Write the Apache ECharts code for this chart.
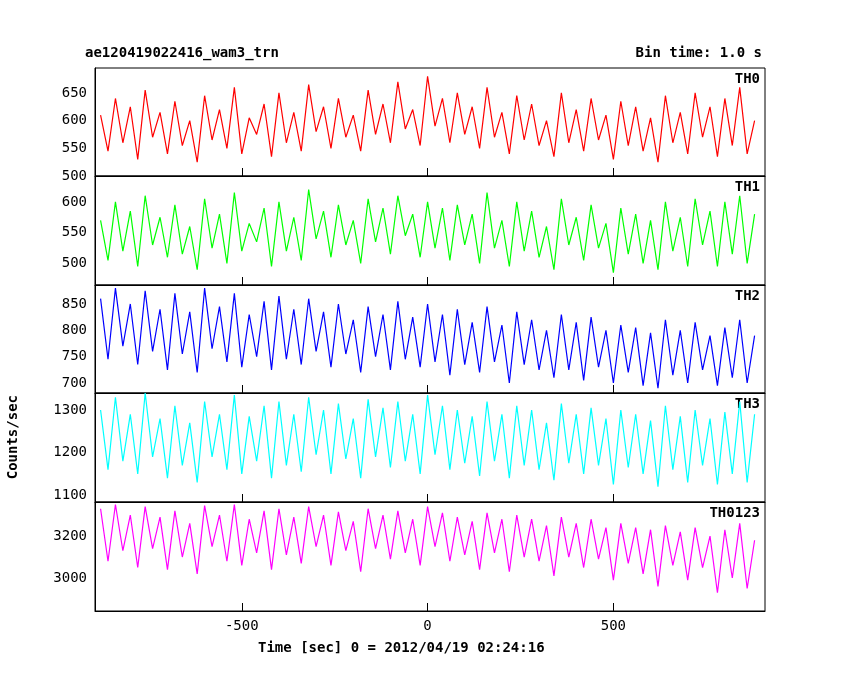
<!DOCTYPE html>
<html>
<head>
<meta charset="utf-8">
<script src="https://cdn.jsdelivr.net/npm/echarts@6/dist/echarts.min.js"></script>
<style>html,body{margin:0;padding:0;background:#fff}#main{width:850px;height:680px}</style>
</head>
<body>
<div id="main"></div>
<script>
var myChart = echarts.init(document.getElementById('main'));

// time bins (sec from 2012/04/19 02:24:16), 20 s apart
var times = [];
for (var t = -880; t <= 880; t += 20) times.push(t);

var names = ['TH0', 'TH1', 'TH2', 'TH3', 'TH0123'];
var colors = ['#ff0000', '#00ff00', '#0000ff', '#00ffff', '#ff00ff'];

var th0 = [610,545,640,560,625,530,655,570,615,540, 635,555,600,525,645,565,620,550,660,540,
  605,575,630,535,650,560,615,545,665,580, 625,550,640,570,610,545,655,575,630,560,
  670,585,620,555,680,590,640,560,650,575, 625,550,660,570,615,540,645,565,630,555,
  600,535,650,560,620,545,640,565,610,530, 635,555,625,545,605,525,645,560,615,540,
  650,570,625,535,640,555,660,540,600];
var th1 = [570,505,600,520,585,495,610,530,575,510, 595,515,560,490,605,525,580,500,615,520,
  565,535,590,495,600,520,575,505,620,540, 585,510,595,530,570,500,605,535,590,515,
  610,545,580,510,600,525,590,505,595,530, 580,500,615,525,570,495,600,520,585,510,
  560,490,605,530,575,505,595,525,565,485, 590,515,580,500,570,490,600,520,575,495,
  605,530,585,495,600,515,610,500,580];
var th2 = [860,745,880,770,850,735,875,760,840,725, 870,755,835,720,880,765,845,740,870,730,
  830,750,855,725,865,745,840,735,860,760, 835,730,850,755,820,720,845,750,830,725,
  855,745,825,730,850,740,830,715,840,735, 815,720,845,740,810,700,835,735,820,725,
  800,710,830,725,815,705,825,730,800,700, 810,720,805,695,795,690,820,715,800,700,
  815,725,790,695,805,710,820,700,790];
var th3 = [1300,1160,1330,1180,1290,1150,1340,1190,1280,1140, 1310,1170,1270,1130,1320,1190,1290,1160,1335,1150,
  1285,1180,1310,1140,1320,1170,1290,1155,1330,1195, 1300,1150,1315,1185,1280,1140,1325,1190,1305,1165,
  1320,1180,1290,1150,1335,1195,1310,1160,1300,1175, 1285,1145,1320,1180,1290,1140,1310,1170,1300,1160,
  1270,1135,1315,1175,1290,1150,1305,1170,1280,1125, 1300,1165,1290,1150,1275,1120,1310,1160,1285,1130,
  1300,1170,1280,1125,1295,1150,1320,1130,1290];
var th0123 = [3330,3080,3350,3130,3300,3050,3340,3140,3290,3040, 3320,3100,3260,3020,3345,3150,3300,3080,3350,3060,
  3280,3120,3320,3040,3330,3110,3290,3070,3340,3150, 3300,3060,3315,3130,3270,3030,3330,3140,3300,3090,
  3320,3120,3280,3060,3340,3150,3310,3080,3290,3110, 3270,3040,3310,3120,3280,3030,3300,3100,3280,3080,
  3250,3010,3290,3100,3260,3050,3280,3090,3240,2990, 3260,3070,3240,3020,3230,2960,3250,3060,3220,2990,
  3240,3050,3200,2930,3230,3000,3260,2950,3180];
var seriesData = [th0, th1, th2, th3, th0123];

var yMin = [500, 465, 681, 1084, 2843];
var yMax = [695, 642, 886, 1340, 3362];
var yTicks = [[500,550,600,650], [500,550,600], [700,750,800,850], [1100,1200,1300], [3000,3200]];
var xTicks = [-500, 0, 500];

var font = 'DejaVu Sans Mono';
var tops = [68, 176, 285, 393, 502];
var heights = [108, 109, 108, 109, 109];

var grids = [], xAxes = [], yAxes = [], series = [], graphics = [];
for (var i = 0; i < 5; i++) {
    grids.push({left: 95, right: 85, top: tops[i], height: heights[i], show: true,
        borderColor: '#000', borderWidth: 1, backgroundColor: 'transparent'});
    xAxes.push({
        type: 'value', gridIndex: i, min: -895, max: 908, position: 'bottom',
        axisLine: {show: true, onZero: false, lineStyle: {color: '#000'}},
        axisTick: {show: true, inside: true, length: 8, lineStyle: {color: '#000'}, customValues: xTicks},
        axisLabel: {show: i === 4, customValues: xTicks, color: '#000', fontFamily: font, fontSize: 14, margin: 8,
            formatter: function (v) { return String(v); }},
        splitLine: {show: false}
    });
    yAxes.push({
        type: 'value', gridIndex: i, min: yMin[i], max: yMax[i], position: 'left',
        axisLine: {show: true, onZero: false, lineStyle: {color: '#000'}},
        axisTick: {show: false},
        axisLabel: {customValues: yTicks[i], color: '#000', fontFamily: font, fontSize: 14, margin: 8,
            formatter: function (v) { return String(v); }},
        splitLine: {show: false}
    });
    var pts = [];
    for (var j = 0; j < seriesData[i].length; j++) pts.push([times[j], seriesData[i][j]]);
    series.push({
        name: names[i], type: 'line', xAxisIndex: i, yAxisIndex: i, data: pts,
        showSymbol: false, animation: false, z: 1,
        lineStyle: {color: colors[i], width: 1.2}
    });
    graphics.push({type: 'text', right: 90, top: tops[i] + 4,
        style: {text: names[i], font: 'bold 14px ' + font, fill: '#000'}});
}

graphics.push({type: 'text', left: 85, top: 46, style: {text: 'ae120419022416_wam3_trn', font: 'bold 14px ' + font, fill: '#000'}});
graphics.push({type: 'text', right: 88, top: 46, style: {text: 'Bin time: 1.0 s', font: 'bold 14px ' + font, fill: '#000'}});
graphics.push({type: 'text', left: 258, top: 641, style: {text: 'Time [sec] 0 = 2012/04/19 02:24:16', font: 'bold 14px ' + font, fill: '#000'}});
graphics.push({type: 'text', left: 6, top: 395, rotation: Math.PI / 2,
    style: {text: 'Counts/sec', font: 'bold 14px ' + font, fill: '#000'}});

var option = {
    backgroundColor: '#fff',
    animation: false,
    grid: grids,
    xAxis: xAxes,
    yAxis: yAxes,
    series: series,
    graphic: graphics
};

myChart.setOption(option);
</script>
</body>
</html>
